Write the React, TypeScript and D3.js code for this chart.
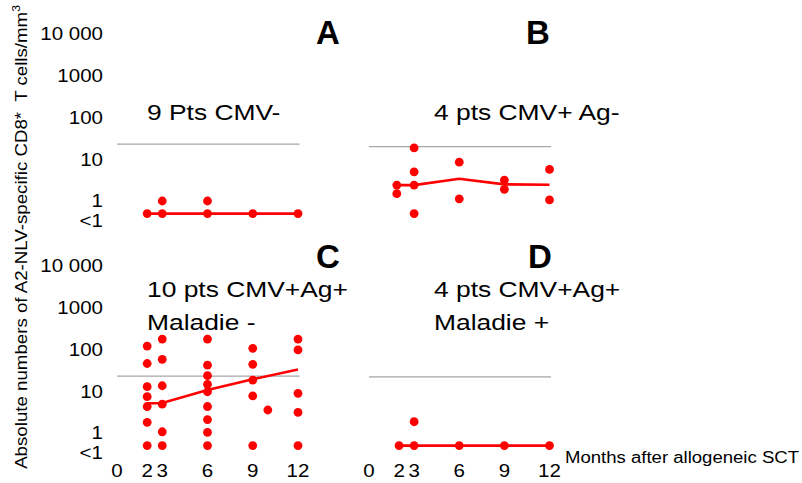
import React from "react";
import * as d3 from "d3";

// "<1" values are plotted at this level
const LT1 = 0.5;

const monthTicks = [0, 2, 3, 6, 9, 12];
const yTickValues = [0.35, 1, 10, 100, 1000, 10000];
const yTickLabels = ["<1", "1", "10", "100", "1000", "10 000"];
const lineMonths = [2, 3, 6, 9, 12];

// Panel A: 9 Pts CMV-
const aPoints: [number, number][] = [
  [2, LT1], [3, LT1], [3, 1], [6, LT1], [6, 1], [9, LT1], [12, LT1],
];
const aLine = [LT1, LT1, LT1, LT1, LT1];
const aThreshold = 23;

// Panel B: 4 pts CMV+ Ag-
const bPoints: [number, number][] = [
  [1.85, 2.4], [1.85, 1.5],
  [3, 18.6], [3, 5], [3, 2.4], [3, LT1],
  [6, 8.5], [6, 1.13],
  [9, 3.16], [9, 1.9],
  [12, 5.7], [12, 1.06],
];
const bLine = [2.4, 2.4, 3.4, 2.5, 2.45];
const bThreshold = 20;

// Panel C: 10 pts CMV+Ag+ Maladie -
const cPoints: [number, number][] = [
  [2, 120], [2, 46], [2, 12.8], [2, 7.4], [2, 4.3], [2, 1.8], [2, LT1],
  [3, 177], [3, 58], [3, 13.5], [3, 4.9], [3, 1.07], [3, LT1],
  [6, 177], [6, 42], [6, 23.5], [6, 14.6], [6, 9.7], [6, 4.3], [6, 2.1], [6, 1.04], [6, LT1],
  [9, 106], [9, 44], [9, 18.5], [9, 7.7], [9, LT1],
  [10, 3.55],
  [12, 177], [12, 97], [12, 8.9], [12, 3.1], [12, LT1],
];
const cLine = [5.1, 5.2, 10.7, 19.3, 33];
const cThreshold = 23;

// Panel D: 4 pts CMV+Ag+ Maladie +
const dPoints: [number, number][] = [
  [2, LT1], [3, 1.86], [3, LT1], [6, LT1], [9, LT1], [12, LT1],
];
const dLine = [LT1, LT1, LT1, LT1, LT1];
const dThreshold = 22;

const FONT = "'Liberation Sans', Arial, Helvetica, sans-serif";
const RED = "#ff0000";
const GRAY = "#a6a6a6";

type PanelProps = {
  letter: string;
  subtitle: string[];
  points: [number, number][];
  line: number[];
  threshold: number;
  x: d3.ScaleLinear<number, number>;
  y: d3.ScaleLogarithmic<number, number>;
  letterX: number;
  letterY: number;
  subX: number;
  subY: number;
  showYTicks: boolean;
  showXTicks: boolean;
};

function Panel(p: PanelProps) {
  const lineGen = d3
    .line<number>()
    .x((_, i) => p.x(lineMonths[i]))
    .y((v) => p.y(v));
  return (
    <g>
      <line
        x1={p.x(0)}
        x2={p.x(12.1)}
        y1={p.y(p.threshold)}
        y2={p.y(p.threshold)}
        stroke={GRAY}
        strokeWidth={1.4}
      />
      <path d={lineGen(p.line) || ""} fill="none" stroke={RED} strokeWidth={2.6} />
      {p.points.map(([m, v], i) => (
        <circle key={i} cx={p.x(m)} cy={p.y(v)} r={4.4} fill={RED} />
      ))}
      <text
        x={p.letterX}
        y={p.letterY}
        textAnchor="middle"
        fontFamily={FONT}
        fontWeight="bold"
        fontSize={33}
        fill="#000"
      >
        {p.letter}
      </text>
      {p.subtitle.map((s, i) => (
        <text
          key={i}
          transform={`translate(${p.subX},${p.subY + i * 32.5}) scale(1.2,1)`}
          fontFamily={FONT}
          fontSize={22}
          fill="#000"
          style={{ whiteSpace: "pre" }}
        >
          {s}
        </text>
      ))}
      {p.showYTicks &&
        yTickValues.map((v, i) => (
          <text
            key={"y" + i}
            transform={`translate(103,${p.y(v)}) scale(1.14,1)`}
            dy="0.36em"
            textAnchor="end"
            fontFamily={FONT}
            fontSize={18}
            fill="#000"
          >
            {yTickLabels[i]}
          </text>
        ))}
      {p.showXTicks &&
        monthTicks.map((m, i) => (
          <text
            key={"x" + i}
            transform={`translate(${p.x(m)},471) scale(1.14,1)`}
            dy="0.36em"
            textAnchor="middle"
            fontFamily={FONT}
            fontSize={18}
            fill="#000"
          >
            {m}
          </text>
        ))}
    </g>
  );
}

export default function App() {
  const xLeft = d3.scaleLinear().domain([0, 12]).range([117, 298]);
  const xRight = d3.scaleLinear().domain([0, 12]).range([369, 549.5]);
  const yTop = d3.scaleLog().domain([1, 10000]).range([201, 33.8]);
  const yBottom = d3.scaleLog().domain([1, 10000]).range([433, 265.8]);

  return (
    <svg
      width={802}
      height={483}
      viewBox="0 0 802 483"
      style={{ position: "absolute", left: 0, top: 0, display: "block", background: "#fff" }}
    >
      <rect width={802} height={483} fill="#fff" />
      <Panel
        letter="A"
        subtitle={["9 Pts CMV-"]}
        points={aPoints}
        line={aLine}
        threshold={aThreshold}
        x={xLeft}
        y={yTop}
        letterX={328}
        letterY={44}
        subX={147}
        subY={120}
        showYTicks={true}
        showXTicks={false}
      />
      <Panel
        letter="B"
        subtitle={["4 pts CMV+ Ag-"]}
        points={bPoints}
        line={bLine}
        threshold={bThreshold}
        x={xRight}
        y={yTop}
        letterX={538}
        letterY={44}
        subX={434}
        subY={120}
        showYTicks={false}
        showXTicks={false}
      />
      <Panel
        letter="C"
        subtitle={["10 pts CMV+Ag+", "Maladie -"]}
        points={cPoints}
        line={cLine}
        threshold={cThreshold}
        x={xLeft}
        y={yBottom}
        letterX={328}
        letterY={268}
        subX={147}
        subY={297}
        showYTicks={true}
        showXTicks={true}
      />
      <Panel
        letter="D"
        subtitle={["4 pts CMV+Ag+", "Maladie +"]}
        points={dPoints}
        line={dLine}
        threshold={dThreshold}
        x={xRight}
        y={yBottom}
        letterX={540}
        letterY={268}
        subX={434}
        subY={297}
        showYTicks={false}
        showXTicks={true}
      />
      <text
        transform="translate(565,462.5) scale(1.16,1)"
        fontFamily={FONT}
        fontSize={16}
        fill="#000"
      >
        Months after allogeneic SCT
      </text>
      <text
        transform="translate(27,237) rotate(-90) scale(1.1,1)"
        textAnchor="middle"
        fontFamily={FONT}
        fontSize={17}
        fill="#000"
        style={{ whiteSpace: "pre" }}
      >
        {"Absolute numbers of A2-NLV-specific CD8*  T cells/mm"}
        <tspan fontSize={11} dy={-7}>3</tspan>
      </text>
    </svg>
  );
}
